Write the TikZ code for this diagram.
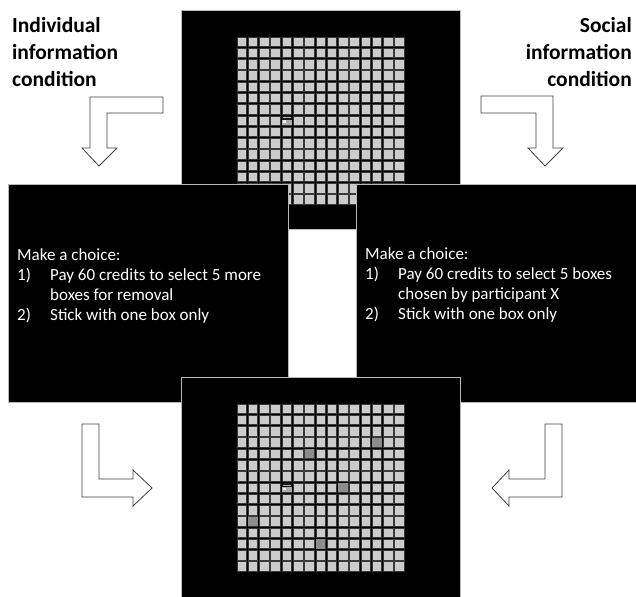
\documentclass[tikz,border=0pt]{standalone}
\usepackage{fontspec}
\setmainfont{Carlito}
\newcommand{\boxgrid}[2]{% 15x15 boxes, top left corner at (#1,#2)
  \foreach \i in {0,...,14} \foreach \j in {0,...,14}
    \draw[cell] ({#1+\i*11.27+0.9},{#2+\j*11.27+0.9}) rectangle ++(9.5,9.5);}
\newcommand{\cursorbox}[2]{% the box holding the cursor
  \fill[gray!65] ({#1+0.9},{#2+0.9}) rectangle ++(9.5,9.5);
  \fill[black!90] ({#1+0.9},{#2+0.9}) rectangle ++(9.5,4);
  \fill[gray!60] ({#1+1.5},{#2+2.6}) rectangle ++(8,0.9);
  \fill[white!85!gray] ({#1+2},{#2+5.6}) rectangle ++(2.8,2.8);}
\newcommand{\numitem}[1]{\makebox[33pt][l]{#1}}

\begin{document}
\begin{tikzpicture}[x=1pt,y=-1pt,
  screen/.style={fill=black,draw=gray!55,line width=0.9pt},
  cell/.style={fill=gray!40,draw=gray!45!black,line width=0.5pt},
  picked/.style={fill=black!45},
  blockarrow/.style={fill=white,draw=black!75,line width=0.8pt,line join=miter},
  choice/.style={text=white,font=\fontsize{17}{20}\selectfont,align=left,anchor=north west,inner sep=0pt},
  condition/.style={font=\fontsize{21.5}{27}\selectfont\bfseries,inner sep=0pt}]
\useasboundingbox (0,0) rectangle (636,596);
\clip (0,0) rectangle (636,596);

% first screen
\draw[screen] (181,10) rectangle (460,229);
\boxgrid{236}{36}
\cursorbox{281.1}{114.9}

% the two choices
\draw[screen] (8,184) rectangle (288,402);
\draw[screen] (356,184) rectangle (636,402);
\node[choice] (indchoice) at (17,248) {Make a choice:\\
  \numitem{1)}Pay 60 credits to select 5 more\\
  \numitem{}boxes for removal\\
  \numitem{2)}Stick with one box only};
\node[choice] (socchoice) at (365,247) {Make a choice:\\
  \numitem{1)}Pay 60 credits to select 5 boxes\\
  \numitem{}chosen by participant X\\
  \numitem{2)}Stick with one box only};

% last screen
\draw[screen] (181,377) rectangle (460,600);
\boxgrid{236}{403}
\foreach \i/\j in {12/3,6/4,9/7,1/10,7/12}
  \fill[picked] ({236+\i*11.27+0.9},{403+\j*11.27+0.9}) rectangle ++(9.5,9.5);
\cursorbox{281.1}{481.9}

% conditions
\node[condition,anchor=north west,align=left] (indcond) at (12,17) {Individual\\information\\condition};
\node[condition,anchor=north east,align=right] (soccond) at (632,17) {Social\\information\\condition};

% arrows
\draw[blockarrow] (163,97) -- (90,97) -- (90,148) -- (82,148) -- (99,166) -- (117,148) -- (107,148) -- (107,113) -- (163,113) -- cycle;
\draw[blockarrow] (481,96) -- (553,96) -- (553,148) -- (563,148) -- (545,166) -- (528,148) -- (536,148) -- (536,113) -- (481,113) -- cycle;
\draw[blockarrow] (82,424) -- (99,424) -- (99,479) -- (133,479) -- (133,470) -- (152,488) -- (133,506) -- (133,497) -- (82,497) -- cycle;
\draw[blockarrow] (562,424) -- (545,424) -- (545,479) -- (509,479) -- (509,470) -- (492,488) -- (509,506) -- (509,497) -- (562,497) -- cycle;
\end{tikzpicture}
\end{document}
